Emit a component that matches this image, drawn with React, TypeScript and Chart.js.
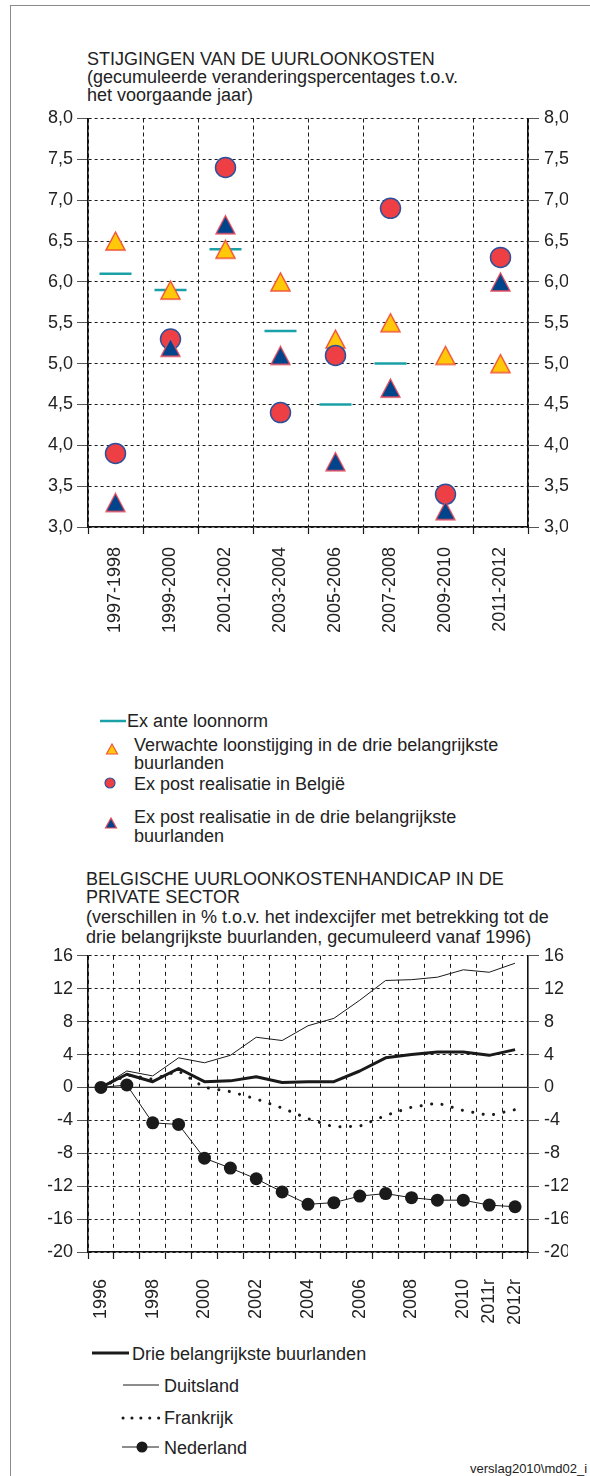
import React, { useEffect, useRef } from 'react';
import { Chart, registerables } from 'chart.js';

Chart.register(...registerables);

const FONT = "'Liberation Sans', Arial, Helvetica, sans-serif";
Chart.defaults.font.family = FONT;

// ---------- Top chart data ----------
const periods = ['1997-1998', '1999-2000', '2001-2002', '2003-2004', '2005-2006', '2007-2008', '2009-2010', '2011-2012'];
const exAnteLoonnorm = [6.1, 5.9, 6.4, 5.4, 4.5, 5.0, null, null];
const verwachteStijging = [6.5, 5.9, 6.4, 6.0, 5.3, 5.5, 5.1, 5.0];
const exPostBelgie = [3.9, 5.3, 7.4, 4.4, 5.1, 6.9, 3.4, 6.3];
const exPostBuurlanden = [3.3, 5.2, 6.7, 5.1, 3.8, 4.7, 3.2, 6.0];
const topMin = 3;
const topMax = 8;
const topStep = 0.5;

// ---------- Bottom chart data ----------
const years = ['1996', '1997', '1998', '1999', '2000', '2001', '2002', '2003', '2004', '2005', '2006', '2007', '2008', '2009', '2010', '2011r', '2012r'];
const yearTickLabels = ['1996', '', '1998', '', '2000', '', '2002', '', '2004', '', '2006', '', '2008', '', '2010', '2011r', '2012r'];
const drieBuurlanden = [0, 1.6, 0.7, 2.3, 0.7, 0.8, 1.3, 0.6, 0.7, 0.7, 2.0, 3.6, 4.0, 4.3, 4.3, 3.9, 4.6];
const duitsland = [0, 2.0, 1.4, 3.6, 3.0, 3.9, 6.1, 5.7, 7.5, 8.4, 10.6, 13.0, 13.1, 13.4, 14.3, 14.0, 15.1];
const frankrijk = [0, 1.5, 1.0, 2.0, 0.0, -0.5, -1.4, -2.5, -3.8, -4.8, -4.7, -3.4, -2.4, -1.9, -2.8, -3.4, -2.7];
const nederland = [0, 0.3, -4.3, -4.5, -8.6, -9.8, -11.1, -12.7, -14.2, -14.0, -13.2, -12.9, -13.4, -13.7, -13.7, -14.3, -14.5];
const botMin = -20;
const botMax = 16;
const botStep = 4;

const TEAL = '#1aa0a7';
const YELLOW = '#ffc90a';
const ORANGE = '#f0553a';
const RED = '#ee4044';
const NAVY = '#30519a';
const BLUE = '#00458c';
const PINK = '#e44a5c';
const INK = '#1a1a1a';
const TXT = '#222';

function makeTriangle(fill: string, stroke: string, w: number, h: number, lw: number) {
  const c = document.createElement('canvas');
  const pad = 2;
  c.width = w + pad * 2;
  c.height = h + pad * 2;
  const g = c.getContext('2d')!;
  g.beginPath();
  g.moveTo(pad + w / 2, pad);
  g.lineTo(pad + w, pad + h);
  g.lineTo(pad, pad + h);
  g.closePath();
  g.fillStyle = fill;
  g.fill();
  g.lineWidth = lw;
  g.strokeStyle = stroke;
  g.lineJoin = 'miter';
  g.stroke();
  return c;
}

const T = ({ x, b, s = 18, children, color = TXT }: any) => (
  <div
    style={{
      position: 'absolute',
      left: x,
      top: b - 0.8465 * s,
      fontSize: s,
      lineHeight: `${s}px`,
      fontFamily: FONT,
      color,
      whiteSpace: 'nowrap',
    }}
  >
    {children}
  </div>
);

export default function App() {
  const topRef = useRef<HTMLCanvasElement>(null);
  const botRef = useRef<HTMLCanvasElement>(null);

  useEffect(() => {
    const yellowTri = makeTriangle(YELLOW, ORANGE, 19, 18, 1.5);
    const blueTri = makeTriangle(BLUE, PINK, 19, 18, 1.3);
    const tickFont = { family: FONT, size: 18 };
    const fmt = (v: any) => Number(v).toFixed(1).replace('.', ',');

    const top = new Chart(topRef.current!, {
      type: 'line',
      data: {
        labels: periods,
        datasets: [
          {
            label: 'Ex ante loonnorm',
            data: exAnteLoonnorm,
            showLine: false,
            pointStyle: 'line',
            pointRadius: 16,
            pointBorderWidth: 2.5,
            pointBorderColor: TEAL,
            borderColor: TEAL,
            order: 4,
          },
          {
            label: 'Verwachte loonstijging in de drie belangrijkste buurlanden',
            data: verwachteStijging,
            showLine: false,
            pointStyle: yellowTri,
            pointRadius: 10,
            order: 3,
          },
          {
            label: 'Ex post realisatie in België',
            data: exPostBelgie,
            showLine: false,
            pointStyle: 'circle',
            pointRadius: 10,
            pointBackgroundColor: RED,
            pointBorderColor: NAVY,
            pointBorderWidth: 1.5,
            order: 2,
          },
          {
            label: 'Ex post realisatie in de drie belangrijkste buurlanden',
            data: exPostBuurlanden,
            showLine: false,
            pointStyle: blueTri,
            pointRadius: 10,
            order: 1,
          },
        ] as any,
      },
      options: {
        animation: false,
        responsive: false,
        events: [],
        layout: { padding: { left: 48, right: 22, top: 13, bottom: 0 } },
        plugins: { legend: { display: false }, tooltip: { enabled: false } },
        scales: {
          x: {
            offset: true,
            grid: { offset: true, color: INK, lineWidth: 1, tickLength: 7, tickColor: INK, tickWidth: 1.2 },
            border: { display: true, color: '#111', width: 1.6, dash: [4, 3] },
            ticks: { autoSkip: false, minRotation: 90, maxRotation: 90, padding: 13, color: TXT, font: tickFont },
            afterFit: (s: any) => { s.height = 113; },
          },
          y: {
            position: 'left',
            min: topMin,
            max: topMax,
            ticks: { stepSize: topStep, padding: 4, color: TXT, font: tickFont, callback: fmt },
            grid: { color: INK, lineWidth: 1, tickLength: 11, tickColor: '#555' },
            border: { display: true, color: '#111', width: 1.6, dash: [3, 3] },
            afterFit: (s: any) => { s.width = 40; },
          },
          y2: {
            position: 'right',
            min: topMin,
            max: topMax,
            ticks: { stepSize: topStep, padding: 5, color: TXT, font: tickFont, callback: fmt },
            grid: { drawOnChartArea: false, tickLength: 11, tickColor: '#555' },
            border: { display: true, color: '#111', width: 1.6 },
            afterFit: (s: any) => { s.width = 40; },
          },
        },
      } as any,
    });

    const zeroLine = {
      id: 'zeroLine',
      beforeDatasetsDraw(chart: any) {
        const { ctx, chartArea, scales } = chart;
        const y = scales.y.getPixelForValue(0);
        ctx.save();
        ctx.strokeStyle = '#333';
        ctx.lineWidth = 1.2;
        ctx.beginPath();
        ctx.moveTo(chartArea.left, y);
        ctx.lineTo(chartArea.right, y);
        ctx.stroke();
        ctx.restore();
      },
    };

    const bot = new Chart(botRef.current!, {
      type: 'line',
      data: {
        labels: years,
        datasets: [
          { label: 'Nederland', data: nederland, borderColor: INK, borderWidth: 1, pointRadius: 6.5, pointBackgroundColor: INK, pointBorderWidth: 0, tension: 0 },
          { label: 'Drie belangrijkste buurlanden', data: drieBuurlanden, borderColor: INK, borderWidth: 3, pointRadius: 0, tension: 0, borderJoinStyle: 'round' },
          { label: 'Duitsland', data: duitsland, borderColor: INK, borderWidth: 1, pointRadius: 0, tension: 0 },
          { label: 'Frankrijk', data: frankrijk, borderColor: INK, borderWidth: 3, borderDash: [0.1, 10.5], borderCapStyle: 'round', pointRadius: 0, tension: 0 },
        ] as any,
      },
      options: {
        animation: false,
        responsive: false,
        events: [],
        layout: { padding: { left: 48, right: 22, top: 12, bottom: 0 } },
        plugins: { legend: { display: false }, tooltip: { enabled: false } },
        scales: {
          x: {
            offset: true,
            grid: { offset: true, color: INK, lineWidth: 1, tickLength: 7, tickColor: INK, tickWidth: 1.2 },
            border: { display: true, color: '#111', width: 1.6, dash: [4, 4] },
            ticks: {
              autoSkip: false,
              minRotation: 90,
              maxRotation: 90,
              padding: 20,
              color: TXT,
              font: tickFont,
              callback: (_v: any, i: number) => yearTickLabels[i],
            },
            afterFit: (s: any) => { s.height = 88; },
          },
          y: {
            position: 'left',
            min: botMin,
            max: botMax,
            ticks: { stepSize: botStep, padding: 4, color: TXT, font: tickFont, callback: (v: any) => String(v) },
            grid: { color: INK, lineWidth: 1, tickLength: 11, tickColor: '#555' },
            border: { display: true, color: '#111', width: 1.6, dash: [3, 3] },
            afterFit: (s: any) => { s.width = 40; },
          },
          y2: {
            position: 'right',
            min: botMin,
            max: botMax,
            ticks: { stepSize: botStep, padding: 5, color: TXT, font: tickFont, callback: (v: any) => String(v) },
            grid: { drawOnChartArea: false, tickLength: 11, tickColor: '#555' },
            border: { display: true, color: '#111', width: 1.6 },
            afterFit: (s: any) => { s.width = 40; },
          },
        },
      } as any,
      plugins: [zeroLine],
    });

    return () => {
      top.destroy();
      bot.destroy();
    };
  }, []);

  return (
    <div style={{ position: 'absolute', left: 0, top: 0, width: 590, height: 1476, overflow: 'hidden', background: '#fff', fontFamily: FONT }}>
      <div style={{ position: 'absolute', left: 10, top: 5, width: 640, height: 1540, border: '1.5px solid #8a8a8a', boxSizing: 'border-box' }} />

      <T x={87} b={65}>STIJGINGEN VAN DE UURLOONKOSTEN</T>
      <T x={87} b={83}>(gecumuleerde veranderingspercentages t.o.v.</T>
      <T x={87} b={101}>het voorgaande jaar)</T>

      <canvas ref={topRef} width={590} height={540} style={{ position: 'absolute', left: 0, top: 100, width: 590, height: 540 }} />

      <T x={127} b={727}>Ex ante loonnorm</T>
      <T x={134} b={751}>Verwachte loonstijging in de drie belangrijkste</T>
      <T x={134} b={769}>buurlanden</T>
      <T x={134} b={790}>Ex post realisatie in België</T>
      <T x={134} b={823}>Ex post realisatie in de drie belangrijkste</T>
      <T x={134} b={842}>buurlanden</T>

      <T x={86} b={885}>BELGISCHE UURLOONKOSTENHANDICAP IN DE</T>
      <T x={86} b={903}>PRIVATE SECTOR</T>
      <T x={86} b={923}>(verschillen in % t.o.v. het indexcijfer met betrekking tot de</T>
      <T x={86} b={943}>drie belangrijkste buurlanden, gecumuleerd vanaf 1996)</T>

      <canvas ref={botRef} width={590} height={400} style={{ position: 'absolute', left: 0, top: 940, width: 590, height: 400 }} />

      <T x={132} b={1360}>Drie belangrijkste buurlanden</T>
      <T x={164} b={1392}>Duitsland</T>
      <T x={164} b={1424}>Frankrijk</T>
      <T x={164} b={1454}>Nederland</T>

      <T x={470} b={1473} s={13}>verslag2010\md02_i</T>

      <svg width={590} height={1476} style={{ position: 'absolute', left: 0, top: 0, pointerEvents: 'none' }}>
        <line x1={100} y1={721} x2={126} y2={721} stroke={TEAL} strokeWidth={2.5} />
        <polygon points="112,744 117.5,754 106.5,754" fill={YELLOW} stroke={ORANGE} strokeWidth={1.2} />
        <circle cx={110} cy={783} r={5} fill={RED} stroke={NAVY} strokeWidth={1.2} />
        <polygon points="111,818 116.5,828 105.5,828" fill={BLUE} stroke={PINK} strokeWidth={1.2} />

        <line x1={92} y1={1353} x2={129} y2={1353} stroke={INK} strokeWidth={3} />
        <line x1={123} y1={1385} x2={159} y2={1385} stroke={INK} strokeWidth={1} />
        <line x1={123} y1={1418} x2={160} y2={1418} stroke={INK} strokeWidth={3} strokeDasharray="0.1 8.8" strokeLinecap="round" />
        <line x1={122} y1={1447} x2={159} y2={1447} stroke={INK} strokeWidth={1} />
        <circle cx={142} cy={1447} r={5.5} fill={INK} />
      </svg>
    </div>
  );
}
